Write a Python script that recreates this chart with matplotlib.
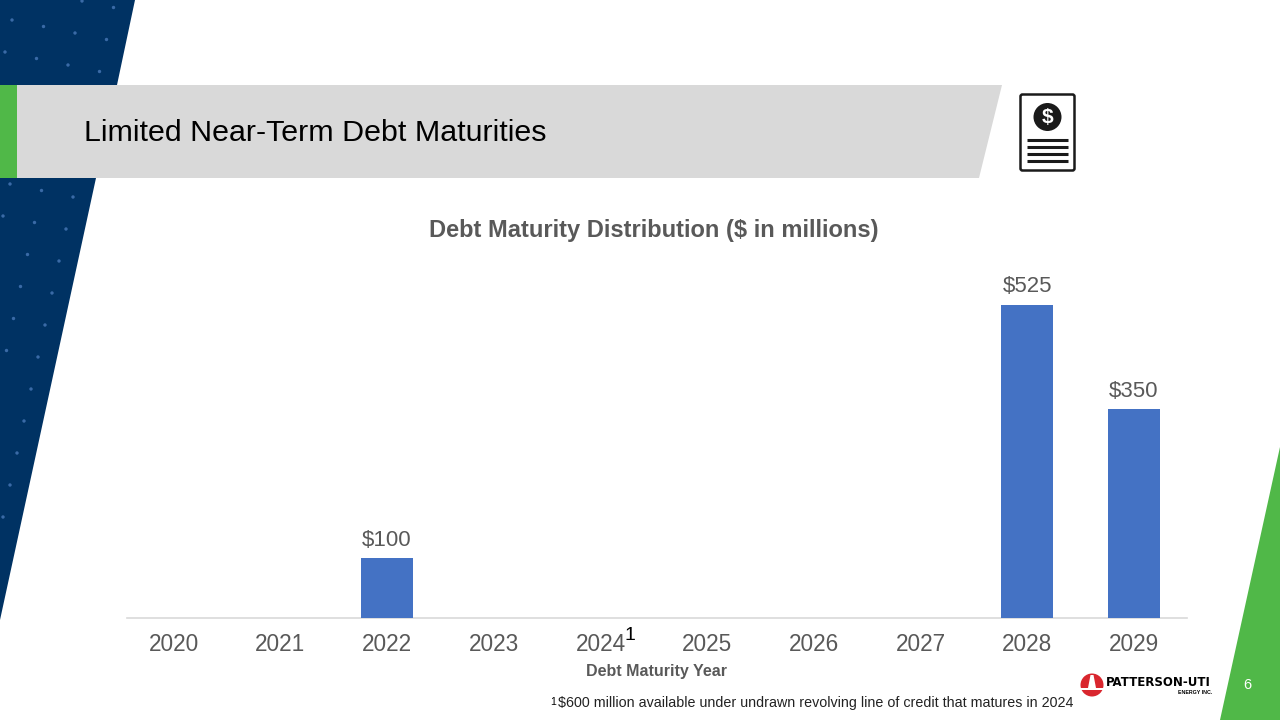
import numpy as np
import matplotlib
matplotlib.use('Agg')
import matplotlib.pyplot as plt
from matplotlib.patches import Polygon, Rectangle, Circle, FancyBboxPatch

plt.rcParams['font.family'] = ['Liberation Sans', 'DejaVu Sans']

# data
years = ['2020', '2021', '2022', '2023', '2024', '2025', '2026', '2027', '2028', '2029']
debt = [0, 0, 100, 0, 0, 0, 0, 0, 525, 350]
bar_labels = ['', '', '$100', '', '', '', '', '', '$525', '$350']

NAVY = '#003263'
GREEN = '#50B848'
GREY = '#D9D9D9'
BLUE = '#4472C4'
TXT = '#595959'

fig = plt.figure(figsize=(12.8, 7.2), dpi=100)

# slide background drawn in pixel coords
bg = fig.add_axes([0, 0, 1, 1])
bg.set_xlim(0, 1280)
bg.set_ylim(720, 0)
bg.axis('off')

top = Polygon([(0, 0), (135, 0), (117, 85), (0, 85)], color=NAVY, lw=0)
bot = Polygon([(0, 178), (96, 178), (0, 620), (0, 620)], color=NAVY, lw=0)
bg.add_patch(top)
bg.add_patch(bot)

# little dots on the navy shape
for i in range(-6, 8):
    for j in range(-1, 21):
        px = 12 + 31.5 * i - 7 * j
        py = 20 + 6.5 * i + 32 * j
        if py > 120:
            px += 1.5
            py -= 2.5
        if px < 0 or py < 0:
            continue
        if 80 < py < 182:
            continue
        if py < 85:
            edge = 135 - py * 18 / 85
        else:
            edge = 96 - (py - 178) * 96 / 442
        if px < edge - 4:
            bg.add_patch(Circle((px, py), 1.7, color='#3A6AA6', lw=0))

bg.add_patch(Polygon([(17, 85), (1002, 85), (979, 178), (17, 178)], color=GREY, lw=0))
bg.add_patch(Rectangle((0, 85), 17, 93, color=GREEN, lw=0))
bg.add_patch(Polygon([(1280, 447), (1280, 720), (1220, 720)], color=GREEN, lw=0))

bg.text(84, 133, 'Limited Near-Term Debt Maturities', fontsize=21.9, color='black', va='center', ha='left')
bg.text(1247, 685, '6', fontsize=10.5, color='white', va='center', ha='center')

# document icon
bg.add_patch(FancyBboxPatch((1020.5, 94.5), 54, 76, boxstyle='round,pad=0,rounding_size=2',
                            fc='white', ec='#1A1A1A', lw=1.8))
bg.add_patch(Circle((1047.5, 117), 14, color='#1A1A1A', lw=0))
bg.text(1047.5, 117.5, '$', fontsize=15, fontweight='bold', color='white', ha='center', va='center')
for ly in [140, 147, 154, 161]:
    bg.plot([1027, 1068], [ly, ly], color='#1A1A1A', lw=2.2, solid_capstyle='butt')

# logo
bg.add_patch(Circle((1092, 685), 11.5, color='#D9262E', lw=0))
bg.add_patch(Rectangle((1080, 688), 24, 1.5, color='white', lw=0))
bg.add_patch(Polygon([(1090.5, 675), (1093.5, 675), (1096, 688), (1088, 688)], color='white', lw=0))
bg.text(1106, 682.5, 'PATTERSON-UTI', fontsize=8.5, fontweight='bold', family='DejaVu Sans', color='black',
        ha='left', va='center')
bg.text(1212, 692, 'ENERGY INC.', fontsize=3.8, fontweight='bold', color='black', ha='right', va='center')

# footnote
bg.text(550, 702, '1', fontsize=7.5, color='black', ha='left', va='center')
bg.text(558, 703, '$600 million available under undrawn revolving line of credit that matures in 2024',
        fontsize=10.3, color='#222222', ha='left', va='center')

# baseline is a bit shorter than the axes on the left
bg.plot([127, 1187], [618, 618], color='#D9D9D9', lw=1.2)

# chart
W, H = 1280.0, 720.0
ax = fig.add_axes([120.3 / W, (H - 618) / H, 1067 / W, 400 / H])
ax.patch.set_alpha(0)
x = np.arange(len(years))
bars = ax.bar(x, debt, width=0.49, color=BLUE)
ax.set_xlim(-0.5, 9.5)
ax.set_ylim(0, 400 / (313 / 525.0))
for s in ax.spines.values():
    s.set_visible(False)
ax.set_yticks([])
ax.set_xticks(x)
ax.set_xticklabels(years, fontsize=16.3, color=TXT)
ax.tick_params(axis='x', length=0, pad=11)

for b, lab in zip(bars, bar_labels):
    if lab:
        ax.annotate(lab, (b.get_x() + b.get_width() / 2, b.get_height()), xytext=(0, 7.5),
                    textcoords='offset pixels', ha='center', va='bottom', fontsize=16, color=TXT)

ax.annotate('1', (4, 0), xytext=(29, -18), textcoords='offset pixels', ha='center', va='center',
            fontsize=14, color='black')
bg.text(657, 671.5, 'Debt Maturity Year', fontsize=11.5, fontweight='bold', color=TXT, ha='center', va='center')

bg.text(654, 230.5, 'Debt Maturity Distribution ($ in millions)', fontsize=17, fontweight='bold',
        color=TXT, ha='center', va='center')

fig.savefig('out.png', dpi=100)
